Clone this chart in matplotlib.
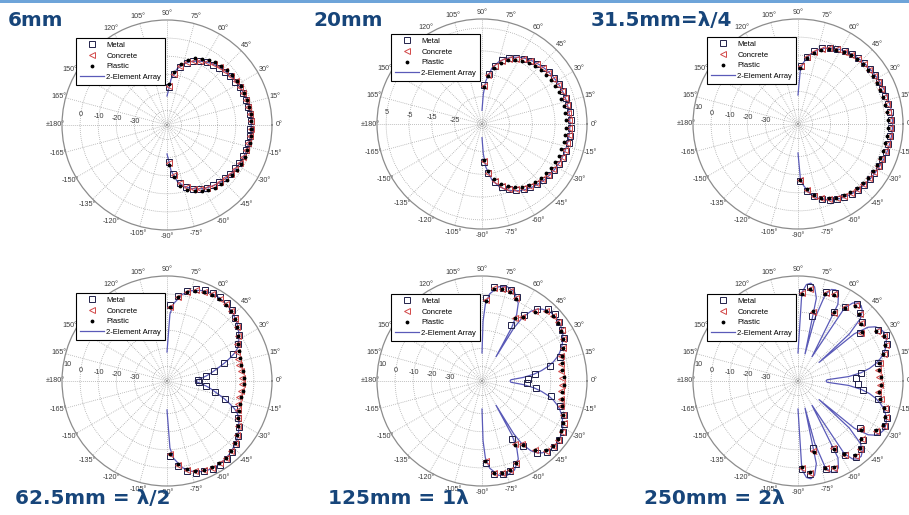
import numpy as np
import matplotlib
matplotlib.use("Agg")
import matplotlib.pyplot as plt
from matplotlib.lines import Line2D
from matplotlib.patches import Rectangle

# ---------------------------------------------------------------- data
# measurement angles (deg)
meas_deg = [-87.5, -82.5, -77.5, -72.5, -67.5, -62.5, -57.5, -52.5, -47.5, -42.5,
            -37.5, -32.5, -27.5, -22.5, -17.5, -12.5, -7.5, -2.5, 2.5, 7.5, 12.5,
            17.5, 22.5, 27.5, 32.5, 37.5, 42.5, 47.5, 52.5, 57.5, 62.5, 67.5, 72.5,
            77.5, 82.5, 87.5]

# angle grid of the theoretical curves (deg)
line_std_deg = [-90, -87.5, -85, -80, -75, -70, -65, -60, -55, -50, -45, -40, -35, -30,
                -25, -20, -15, -10, -5, 0, 5, 10, 15, 20, 25, 30, 35, 40, 45, 50, 55,
                60, 65, 70, 75, 80, 85, 87.5, 90]
line4_deg = [-90, -87.5, -85, -80, -75, -70, -65, -60, -55, -50, -45, -40, -35, -30,
             -27.5, -25, -22.5, -20, -17.5, -15, -12.5, -10, -7.5, -5, -2.5, 0, 2.5, 5,
             7.5, 10, 12.5, 15, 17.5, 20, 22.5, 25, 27.5, 30, 35, 40, 45, 50, 55, 60,
             65, 70, 75, 80, 85, 87.5, 90]
line5_deg = [-90, -89, -87.5, -85, -80, -75, -70, -65, -62.5, -61, -60, -59, -57.5, -55,
             -52.5, -50, -45, -40, -35, -30, -25, -22.5, -20, -17.5, -15, -12.5, -10,
             -7.5, -5, -2.5, 0, 2.5, 5, 7.5, 10, 12.5, 15, 17.5, 20, 22.5, 25, 30, 35,
             40, 45, 50, 52.5, 55, 57.5, 59, 60, 61, 62.5, 65, 70, 75, 80, 85, 87.5,
             89, 90]
line6_deg = [-90, -87.5, -85, -82.5, -80, -77.5, -75.5, -75, -72.5, -70, -67.5, -65,
             -62.5, -60, -57.5, -55, -52.5, -50, -47.5, -45, -42.5, -41.4, -40, -37.5,
             -35, -32.5, -30, -27.5, -25, -22.5, -20, -17.5, -15, -12.5, -10, -7.5, -5,
             -2.5, 0, 2.5, 5, 7.5, 10, 12.5, 15, 17.5, 20, 22.5, 25, 27.5, 30, 32.5,
             35, 37.5, 40, 41.4, 42.5, 45, 47.5, 50, 52.5, 55, 57.5, 60, 62.5, 65,
             67.5, 70, 72.5, 75, 75.5, 77.5, 80, 82.5, 85, 87.5, 90]

# 6 mm
array1_db = [-32, -28.7, -22.7, -16.7, -13.2, -10.8, -9.0, -7.5, -6.3, -5.3, -4.5, -3.8,
             -3.2, -2.8, -2.4, -2.0, -1.8, -1.6, -1.5, -1.5, -1.5, -1.6, -1.8, -2.0,
             -2.4, -2.8, -3.2, -3.8, -4.5, -5.3, -6.3, -7.5, -9.0, -10.8, -13.2, -16.7,
             -22.7, -28.7, -32]
metal1 = [-27.5, -20.5, -15.3, -12.2, -10.0, -8.3, -7.0, -6.0, -5.2, -4.5, -3.9, -3.4,
          -3.0, -2.6, -2.3, -2.1, -2.0, -1.9, -1.8, -1.9, -2.0, -2.2, -2.5, -2.8, -3.3,
          -3.8, -4.4, -5.1, -5.9, -6.9, -8.2, -9.8, -12.0, -15.0, -19.8, -27.0]
concrete1 = [-27.0, -20.0, -15.0, -12.0, -9.7, -8.0, -6.8, -5.8, -5.0, -4.3, -3.7, -3.2,
             -2.8, -2.4, -2.1, -1.9, -1.7, -1.6, -1.6, -1.7, -1.9, -2.1, -2.3, -2.6,
             -3.1, -3.6, -4.2, -4.9, -5.7, -6.7, -8.0, -9.5, -11.7, -14.6, -19.4, -26.5]
plastic1 = [-26.0, -18.8, -13.6, -10.5, -8.3, -6.7, -5.4, -4.4, -3.6, -3.0, -2.5, -2.1,
            -1.8, -1.6, -1.4, -1.3, -1.3, -1.4, -1.3, -1.3, -1.4, -1.5, -1.7, -1.9,
            -2.3, -2.6, -3.0, -3.6, -4.4, -5.3, -6.6, -8.2, -10.3, -13.4, -18.3, -25.5]

# 20 mm
array2_db = [-31, -24, -18.1, -12.2, -8.8, -6.4, -4.7, -3.3, -2.25, -1.4, -0.7, -0.1,
             0.3, 0.7, 1.0, 1.2, 1.35, 1.45, 1.5, 1.55, 1.5, 1.45, 1.35, 1.2, 1.0, 0.7,
             0.3, -0.1, -0.7, -1.4, -2.25, -3.3, -4.7, -6.4, -8.8, -12.2, -18.1, -24, -31]
metal2 = [-20.5, -15.3, -11.0, -8.0, -6.0, -4.4, -3.1, -2.1, -1.3, -0.6, 0.0, 0.5, 1.0,
          1.4, 1.7, 1.9, 2.0, 2.0, 1.9, 1.9, 1.8, 1.6, 1.3, 1.0, 0.6, 0.1, -0.5, -1.2,
          -2.0, -3.0, -4.3, -5.8, -7.8, -10.8, -15.0, -20.0]
concrete2 = [-20.6, -15.5, -11.3, -8.4, -6.4, -4.8, -3.5, -2.5, -1.7, -1.1, -0.6, -0.1,
             0.3, 0.7, 1.0, 1.2, 1.3, 1.3, 1.2, 1.2, 1.1, 0.9, 0.7, 0.4, 0.0, -0.4, -1.0,
             -1.6, -2.4, -3.4, -4.7, -6.2, -8.2, -11.1, -15.2, -20.2]
plastic2 = [-21.3, -16.3, -12.2, -9.3, -7.4, -5.8, -4.5, -3.5, -2.8, -2.2, -1.7, -1.3,
            -1.0, -0.7, -0.5, -0.3, -0.2, -0.2, -0.3, -0.3, -0.4, -0.5, -0.7, -0.9, -1.2,
            -1.6, -2.1, -2.6, -3.3, -4.2, -5.4, -6.8, -8.8, -11.7, -15.8, -20.8]

# 31.5 mm
array3_db = [-32, -18, -14, -8.8, -5.6, -3.4, -1.8, -0.6, 0.3, 1.0, 1.5, 1.9, 2.3, 2.6,
             3.0, 3.4, 3.7, 4.0, 4.2, 4.3, 4.2, 4.0, 3.7, 3.4, 3.0, 2.6, 2.3, 1.9, 1.5,
             1.0, 0.3, -0.6, -1.8, -3.4, -5.6, -8.8, -14, -18, -32]
metal3 = [-16.5, -10.8, -7.0, -4.4, -2.5, -1.2, -0.2, 0.6, 1.2, 1.6, 1.9, 2.1, 2.3, 2.5,
          2.7, 2.9, 3.1, 3.3, 3.2, 3.0, 2.8, 2.6, 2.5, 2.3, 2.2, 2.0, 1.8, 1.4, 0.8, 0.0,
          -1.0, -2.3, -4.2, -6.8, -10.5, -16.0]
concrete3 = [-16.8, -11.2, -7.5, -4.9, -3.0, -1.7, -0.7, 0.1, 0.6, 1.0, 1.3, 1.5, 1.7,
             1.9, 2.1, 2.3, 2.5, 2.6, 2.6, 2.4, 2.2, 2.0, 1.9, 1.7, 1.6, 1.4, 1.2, 0.8,
             0.2, -0.6, -1.5, -2.8, -4.7, -7.2, -10.8, -16.2]
plastic3 = [-17.0, -11.6, -8.0, -5.4, -3.5, -2.2, -1.2, -0.4, 0.1, 0.4, 0.6, 0.8, 0.9,
            1.1, 1.2, 1.4, 1.5, 1.6, 1.6, 1.5, 1.3, 1.1, 1.0, 0.9, 0.9, 0.8, 0.7, 0.4,
            -0.2, -1.0, -2.0, -3.3, -5.2, -7.8, -11.3, -16.8]

# 62.5 mm
array4_db = [-32, -11, -5, 0.6, 3.6, 5.3, 6.2, 6.4, 6.0, 5.2, 3.9, 2.3, 0.3, -2.2, -3.5,
             -5, -7.5, -11, -14.5, -18, -21, -23.5, -26, -28.5, -31, -32.5, -31, -28.5,
             -26, -23.5, -21, -18, -14.5, -11, -7.5, -5, -3.5, -2.2, 0.3, 2.3, 3.9, 5.2,
             6.0, 6.4, 6.2, 5.3, 3.6, 0.6, -5, -11, -32]
metal4 = [-6.5, -0.8, 3.0, 5.0, 6.0, 6.7, 6.8, 6.2, 5.1, 3.5, 1.6, -0.8, -3.8, -8.0,
          -14.5, -21.0, -26.0, -30.5, -31.0, -26.5, -21.5, -15.0, -8.5, -4.0, -1.0, 1.5,
          3.3, 5.0, 6.3, 7.0, 6.8, 6.3, 5.2, 3.2, -0.5, -6.0]
concrete4 = [-7.5, -1.3, 2.3, 4.3, 5.3, 5.9, 6.0, 5.6, 4.6, 3.0, 1.0, -1.6, -4.0, -5.8,
             -6.6, -7.0, -6.8, -6.5, -6.8, -7.0, -7.0, -6.8, -6.0, -4.3, -1.8, 0.8, 2.8,
             4.5, 5.6, 6.0, 6.0, 5.5, 4.5, 2.5, -1.0, -7.0]
plastic4 = [-7.5, -1.5, 2.0, 4.0, 5.0, 5.5, 5.6, 5.3, 4.3, 2.8, 1.0, -1.3, -3.6, -5.0,
            -5.6, -5.9, -5.6, -5.3, -5.5, -5.8, -6.0, -5.8, -5.2, -3.8, -1.5, 0.8, 2.6,
            4.2, 5.2, 5.6, 5.6, 5.2, 4.2, 2.2, -1.2, -7.0]

# 125 mm
array5_db = [-32.5, -15, -5.5, 0.3, 4.9, 5.9, 4.4, -0.6, -6.5, -14, -32.5, -14, -6.5,
             -1.0, 2.0, 3.8, 5.6, 5.9, 5.1, 3.5, 1.0, -0.6, -2.4, -4.6, -7.2, -10.5,
             -14.5, -19, -25, -32, -32.5, -32, -25, -19, -14.5, -10.5, -7.2, -4.6, -2.4,
             -0.6, 1.0, 3.5, 5.1, 5.9, 5.6, 3.8, 2.0, -1.0, -6.5, -14, -32.5, -14, -6.5,
             -0.6, 4.4, 5.9, 4.9, 0.3, -5.5, -15, -32.5]
metal5 = [-2.5, 4.0, 4.9, 4.3, 1.5, -12.0, -5.5, 1.8, 5.5, 6.2, 5.9, 4.8, 3.2, 0.8, -2.6,
          -9.0, -18.0, -23.0, -22.5, -18.5, -9.5, -3.0, 0.5, 3.0, 4.6, 5.8, 6.4, 5.8,
          2.2, -5.0, -13.0, 2.0, 4.6, 4.8, 4.3, -2.0]
concrete5 = [-3.5, 3.4, 4.3, 3.8, 1.2, -8.5, -6.8, 0.3, 4.4, 5.3, 5.2, 4.3, 2.8, 0.5,
             -2.0, -3.2, -3.8, -3.6, -3.8, -4.0, -3.5, -2.2, 0.3, 2.6, 4.2, 5.2, 5.4,
             4.6, 0.5, -6.4, -9.0, 1.5, 4.0, 4.3, 3.6, -3.0]
plastic5 = [-4.0, 3.0, 3.8, 3.3, 0.8, -8.0, -6.3, 0.0, 4.0, 4.9, 4.8, 3.9, 2.5, 0.4,
            -1.6, -2.8, -3.3, -2.7, -2.8, -3.5, -3.0, -1.8, 0.2, 2.3, 3.8, 4.8, 5.0,
            4.2, 0.2, -6.0, -8.5, 1.0, 3.5, 3.8, 3.2, -3.5]

# 250 mm
array6_db = [-32.5, 0.9, 5.5, 6.5, 4.8, -1.2, -32.5, -12.6, 2.0, 5.8, 6.5, 4.9, -0.2,
             -32.5, -0.4, 4.6, 6.3, 6.3, 4.6, 0.7, -9.5, -32.5, -7.5, 0.8, 4.2, 5.8, 6.5,
             6.4, 5.8, 4.8, 3.3, 1.3, -1.1, -4.1, -7.9, -12.9, -19.9, -31.9, -32.5,
             -31.9, -19.9, -12.9, -7.9, -4.1, -1.1, 1.3, 3.3, 4.8, 5.8, 6.4, 6.5, 5.8,
             4.2, 0.8, -7.5, -32.5, -9.5, 0.7, 4.6, 6.3, 6.3, 4.6, -0.4, -32.5, -0.2,
             4.9, 6.5, 5.8, 2.0, -12.6, -32.5, -1.2, 4.8, 6.5, 5.5, 0.9, -32.5]
metal6 = [0.5, 4.0, -10.0, 3.0, 4.5, -5.5, 0.3, 5.0, 3.3, 0.5, -5.0, 4.0, 6.3, 5.0, 2.8,
          -2.5, -12.0, -15.0, -16.0, -12.7, -3.0, 2.6, 5.2, 6.5, 4.3, -4.5, 0.0, 3.0,
          5.3, 0.7, -5.0, 4.8, 3.5, -11.0, 4.2, 1.0]
concrete6 = [0.2, 3.3, -8.5, 2.6, 3.8, -6.0, 0.2, 4.4, 2.8, -0.2, -4.4, 3.2, 5.6, 4.4,
             2.2, -1.2, -3.3, -2.8, -3.0, -3.5, -1.5, 2.0, 4.5, 5.8, 3.5, -4.0, -0.5,
             2.5, 4.6, 0.5, -5.5, 4.0, 3.0, -9.0, 3.5, 0.5]
plastic6 = [-0.3, 2.8, -8.0, 2.2, 3.3, -5.5, -0.3, 3.8, 2.3, -0.8, -3.8, 2.8, 5.1, 3.9,
            1.7, -1.8, -2.6, -1.9, -2.0, -2.8, -2.0, 1.5, 4.0, 5.3, 3.0, -3.5, -1.1, 2.0,
            4.0, 0.0, -5.0, 3.5, 2.5, -8.6, 3.0, 0.0]

titles = ["6mm", "20mm", "31.5mm=\u03bb/4", "62.5mm = \u03bb/2", "125mm = 1\u03bb", "250mm = 2\u03bb"]
legend_labels = ["Metal", "Concrete", "Plastic", "2-Element Array"]
theta_labels = ["0\u00b0", "15\u00b0", "30\u00b0", "45\u00b0", "60\u00b0", "75\u00b0", "90\u00b0",
                "105\u00b0", "120\u00b0", "135\u00b0", "150\u00b0", "165\u00b0", "\u00b1180\u00b0",
                "-165\u00b0", "-150\u00b0", "-135\u00b0", "-120\u00b0", "-105\u00b0", "-90\u00b0",
                "-75\u00b0", "-60\u00b0", "-45\u00b0", "-30\u00b0", "-15\u00b0"]

# ---------------------------------------------------------------- styling
W, H = 909, 515
R = 105
TITLE_COLOR = "#17457a"
METAL_C = "#22224a"
CONCRETE_C = "#d24848"
ARRAY_C = "#5a5ab8"
LABEL_FONT = "Liberation Sans"

std_rings = [-40, -30, -20, -10, 0]
std_rlabels = [(0, "0"), (-10, "-10"), (-20, "-20"), (-30, "-30")]
std_rlabels10 = [(10, "10")] + std_rlabels

panels = [
    dict(center=(167, 125), rlim=(-48, 10), rings=std_rings, rlabels=std_rlabels,
         ldeg=line_std_deg, ldb=array1_db, m=metal1, c=concrete1, p=plastic1, leg_top=38),
    dict(center=(482, 124), rlim=(-37, 9), rings=[-35, -25, -15, -5, 5],
         rlabels=[(5, "5"), (-5, "-5"), (-15, "-15"), (-25, "-25")],
         ldeg=line_std_deg, ldb=array2_db, m=metal2, c=concrete2, p=plastic2, leg_top=34),
    dict(center=(798, 124), rlim=(-48, 10), rings=std_rings, rlabels=std_rlabels10,
         ldeg=line_std_deg, ldb=array3_db, m=metal3, c=concrete3, p=plastic3, leg_top=37),
    dict(center=(167, 381), rlim=(-48, 10), rings=std_rings, rlabels=std_rlabels10,
         ldeg=line4_deg, ldb=array4_db, m=metal4, c=concrete4, p=plastic4, leg_top=293),
    dict(center=(482, 381), rlim=(-48, 10), rings=std_rings, rlabels=std_rlabels10,
         ldeg=line5_deg, ldb=array5_db, m=metal5, c=concrete5, p=plastic5, leg_top=294),
    dict(center=(798, 381), rlim=(-48, 10), rings=std_rings, rlabels=std_rlabels10,
         ldeg=line6_deg, ldb=array6_db, m=metal6, c=concrete6, p=plastic6, leg_top=294),
]

title_pos = [(8, 20), (313, 20), (591, 20), (15, 499), (328, 499), (644, 499)]

fig = plt.figure(figsize=(W / 100, H / 100), dpi=100)
fig.patch.set_facecolor("white")

# thin accent bar along the top edge
fig.add_artist(Rectangle((0, 1 - 3 / H), 1, 3 / H, transform=fig.transFigure,
                         facecolor="#6ea4d9", edgecolor="none", zorder=0))

legend_handles = [
    Line2D([], [], ls="none", marker="s", ms=4.2, mfc="none", mec=METAL_C, mew=0.7),
    Line2D([], [], ls="none", marker="<", ms=4.2, mfc="none", mec=CONCRETE_C, mew=0.7),
    Line2D([], [], ls="none", marker=".", ms=3.5, color="black"),
    Line2D([], [], color=ARRAY_C, lw=0.9),
]

for p in panels:
    cx, cy = p["center"]
    ax = fig.add_axes([(cx - R) / W, 1 - (cy + R) / H, 2 * R / W, 2 * R / H],
                      projection="polar")
    ax.set_theta_zero_location("E")
    ax.set_theta_direction(1)
    ax.set_ylim(*p["rlim"])
    ax.set_yticks(p["rings"])
    ax.set_yticklabels([])
    ax.set_thetagrids(np.arange(0, 360, 15), theta_labels, fontsize=5.2,
                      color="#3c3c3c", family=LABEL_FONT)
    ax.tick_params(axis="x", pad=-5.5)
    ax.grid(True, linestyle=(0, (1, 1.6)), color="#9c9c9c", linewidth=0.55)
    ax.spines["polar"].set_color("#8c8c8c")
    ax.spines["polar"].set_linewidth(0.9)

    ax.plot(np.deg2rad(p["ldeg"]), p["ldb"], color=ARRAY_C, lw=0.9, zorder=3)
    th = np.deg2rad(meas_deg)
    ax.plot(th, p["m"], ls="none", marker="s", ms=4.2, mfc="none", mec=METAL_C,
            mew=0.7, zorder=4)
    ax.plot(th, p["c"], ls="none", marker="<", ms=4.2, mfc="none", mec=CONCRETE_C,
            mew=0.7, zorder=4)
    ax.plot(th, p["p"], ls="none", marker=".", ms=3.5, color="black", zorder=4)

    for val, txt in p["rlabels"]:
        if val == 10:
            ax.text(np.deg2rad(171), val, txt, fontsize=5.2, family=LABEL_FONT,
                    color="#3c3c3c", ha="left", va="center")
        else:
            ax.text(np.deg2rad(173), val, txt, fontsize=5.2, family=LABEL_FONT,
                    color="#3c3c3c", ha="center", va="center")

    leg = ax.legend(legend_handles, legend_labels, loc="upper right",
                    bbox_to_anchor=((cx - 2) / W, 1 - p["leg_top"] / H),
                    bbox_transform=fig.transFigure, prop={"family": LABEL_FONT, "size": 5.5},
                    frameon=True, fancybox=False, framealpha=1, edgecolor="black",
                    borderpad=0.5, labelspacing=0.42, handlelength=3.2,
                    handletextpad=0.3, borderaxespad=0, numpoints=1)
    leg.get_frame().set_linewidth(0.8)
    leg.set_zorder(10)

for (tx, ty), t in zip(title_pos, titles):
    fig.text(tx / W, 1 - ty / H, t, fontsize=14.4, fontweight="bold",
             family="DejaVu Sans", color=TITLE_COLOR, ha="left", va="center")

fig.savefig("out.png", dpi=100, facecolor="white")
